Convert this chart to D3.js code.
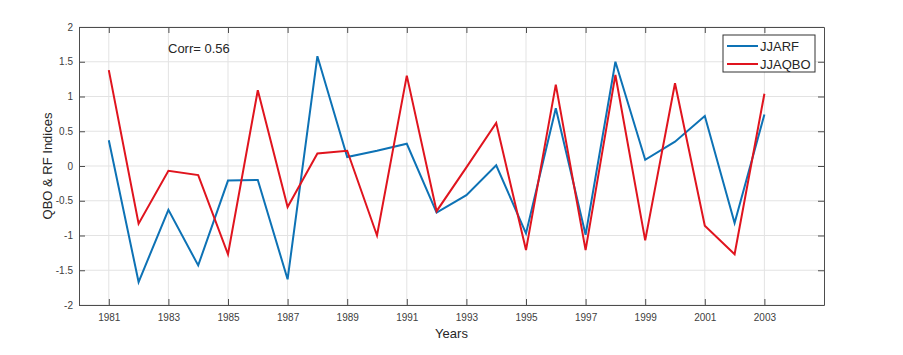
<!DOCTYPE html>
<html>
<head>
<meta charset="utf-8">
<script src="https://cdn.jsdelivr.net/npm/d3@7"></script>
<style>
  body { margin: 0; background: #fff; }
  svg { font-family: "Liberation Sans", Arial, sans-serif; }
</style>
</head>
<body>
<svg id="chart"></svg>
<script>
const years = d3.range(1981, 2004);
const jjarf = [0.37, -1.67, -0.63, -1.43, -0.21, -0.20, -1.63, 1.58, 0.13, 0.22, 0.32, -0.67,
    -0.42, 0.01, -0.97, 0.83, -0.99, 1.50, 0.09, 0.35, 0.72, -0.82, 0.74];
const jjaqbo = [1.38, -0.83, -0.07, -0.13, -1.27, 1.09, -0.59, 0.18, 0.22, -1.00, 1.30, -0.65,
    -0.02, 0.62, -1.21, 1.17, -1.21, 1.31, -1.07, 1.19, -0.86, -1.27, 1.04];
const xTicks = d3.range(1981, 2004, 2);
const yTicks = [-2, -1.5, -1, -0.5, 0, 0.5, 1, 1.5, 2];

const width = 903;
const height = 355;
const margin = { top: 27, right: 79, bottom: 50, left: 79 };

const svg = d3.select("#chart")
    .attr("width", width)
    .attr("height", height);

const x = d3.scaleLinear()
    .domain([1980, 2005])
    .range([margin.left, width - margin.right]);

const y = d3.scaleLinear()
    .domain([-2, 2])
    .range([height - margin.bottom, margin.top]);

// grid
svg.append("g")
    .selectAll("line")
    .data(xTicks)
    .enter()
    .append("line")
    .attr("x1", d => x(d)).attr("x2", d => x(d))
    .attr("y1", y(-2)).attr("y2", y(2))
    .attr("stroke", "#e3e3e3");

svg.append("g")
    .selectAll("line")
    .data(yTicks)
    .enter()
    .append("line")
    .attr("x1", x(1980)).attr("x2", x(2005))
    .attr("y1", d => y(d)).attr("y2", d => y(d))
    .attr("stroke", "#e3e3e3");

// axes
const fmt = d => String(d);
const styleAxis = g => {
    g.select(".domain").attr("stroke", "#4d4d4d");
    g.selectAll(".tick line").attr("stroke", "#4d4d4d");
    g.selectAll(".tick text").attr("fill", "#404040").style("font-size", "10px");
};

svg.append("g")
    .attr("transform", `translate(0,${y(-2)})`)
    .call(d3.axisBottom(x).tickValues(xTicks).tickFormat(fmt).tickSizeInner(-6).tickSizeOuter(0).tickPadding(9))
    .call(styleAxis);

svg.append("g")
    .attr("transform", `translate(0,${y(2)})`)
    .call(d3.axisTop(x).tickValues(xTicks).tickFormat("").tickSizeInner(-6).tickSizeOuter(0))
    .call(styleAxis);

svg.append("g")
    .attr("transform", `translate(${x(1980)},0)`)
    .call(d3.axisLeft(y).tickValues(yTicks).tickFormat(fmt).tickSizeInner(-6).tickSizeOuter(0).tickPadding(6))
    .call(styleAxis);

svg.append("g")
    .attr("transform", `translate(${x(2005)},0)`)
    .call(d3.axisRight(y).tickValues(yTicks).tickFormat("").tickSizeInner(-6).tickSizeOuter(0))
    .call(styleAxis);

// lines
const line = vals => d3.line()
    .x((d, i) => x(years[i]))
    .y(d => y(d))(vals);

svg.append("path")
    .attr("d", line(jjarf))
    .attr("fill", "none")
    .attr("stroke", "#0d72b5")
    .attr("stroke-width", 2);

svg.append("path")
    .attr("d", line(jjaqbo))
    .attr("fill", "none")
    .attr("stroke", "#e0141e")
    .attr("stroke-width", 2);

// labels
svg.append("text")
    .attr("x", 168)
    .attr("y", 53)
    .attr("fill", "#262626")
    .style("font-size", "13px")
    .text("Corr= 0.56");

svg.append("text")
    .attr("x", (x(1980) + x(2005)) / 2)
    .attr("y", 338)
    .attr("text-anchor", "middle")
    .attr("fill", "#262626")
    .style("font-size", "13px")
    .text("Years");

svg.append("text")
    .attr("transform", `translate(52,${y(0)}) rotate(-90)`)
    .attr("text-anchor", "middle")
    .attr("fill", "#262626")
    .style("font-size", "13px")
    .text("QBO & RF Indices");

// legend
const legend = svg.append("g").attr("transform", "translate(723,35)");
legend.append("rect")
    .attr("width", 92).attr("height", 37)
    .attr("fill", "#fff")
    .attr("stroke", "#333");

const series = [["JJARF", "#0d72b5"], ["JJAQBO", "#e0141e"]];
series.forEach(([name, color], i) => {
    legend.append("line")
        .attr("x1", 4).attr("x2", 35)
        .attr("y1", 11 + i * 18).attr("y2", 11 + i * 18)
        .attr("stroke", color)
        .attr("stroke-width", 2);
    legend.append("text")
        .attr("x", 37)
        .attr("y", 15.5 + i * 18)
        .attr("fill", "#262626")
        .style("font-size", "13px")
        .text(name);
});
</script>
</body>
</html>
